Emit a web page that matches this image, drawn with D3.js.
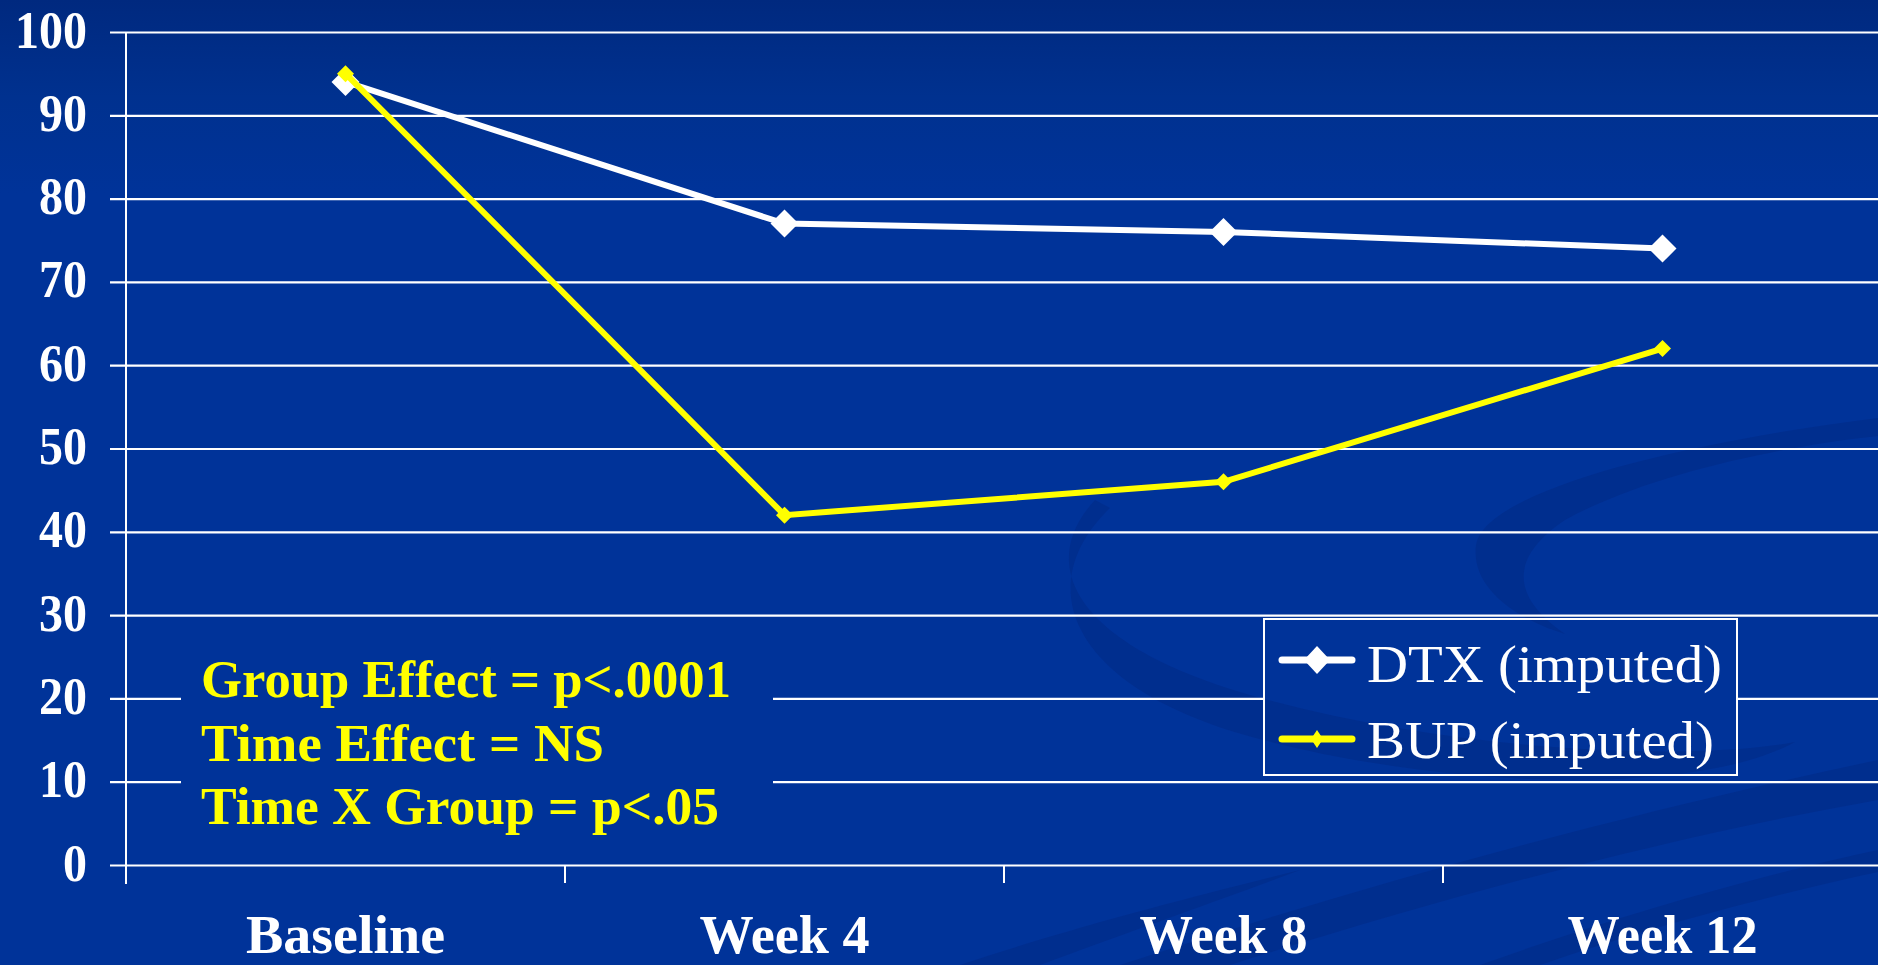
<!DOCTYPE html>
<html>
<head>
<meta charset="utf-8">
<script src="https://cdn.jsdelivr.net/npm/d3@7"></script>
<style>
  html, body { margin: 0; padding: 0; background: #003399; overflow: hidden; }
  svg { display: block; }
</style>
</head>
<body>
<svg id="chart" width="1878" height="965"></svg>
<script>
// ---------- data ----------
const categories = ["Baseline", "Week 4", "Week 8", "Week 12"];
const dtxValues = [94, 77, 76, 74];
const bupValues = [95, 42, 46, 62];
const yTicks = [0, 10, 20, 30, 40, 50, 60, 70, 80, 90, 100];
const seriesNames = ["DTX (imputed)", "BUP (imputed)"];
const seriesColors = ["#ffffff", "#ffff00"];
const annotationLines = ["Group Effect = p<.0001", "Time Effect = NS", "Time X Group = p<.05"];

// ---------- layout ----------
const W = 1878, H = 965;
const svg = d3.select("#chart");
const bg = "#003399";
const serif = "'Liberation Serif', 'Times New Roman', serif";

const x = d3.scaleBand().domain(categories).range([126, 1882]);
const y = d3.scaleLinear().domain([0, 100]).range([865, 32]);

// background gradient
const defs = svg.append("defs");
const grad = defs.append("linearGradient").attr("id", "bgGrad")
  .attr("x1", 0).attr("y1", 0).attr("x2", 0).attr("y2", 1);
grad.append("stop").attr("offset", "0%").attr("stop-color", "#00297f");
grad.append("stop").attr("offset", "10%").attr("stop-color", "#00318f");
grad.append("stop").attr("offset", "20%").attr("stop-color", bg);
grad.append("stop").attr("offset", "100%").attr("stop-color", bg);
svg.append("rect").attr("width", W).attr("height", H).attr("fill", "url(#bgGrad)");

// decorative swooshes (slide background)
const swooshPaths = [
  "M1095,500 C1035,565 1075,645 1250,695 C1450,752 1690,762 1795,742 C1700,795 1450,792 1245,735 C1070,685 1030,585 1110,508 Z",
  "M1878,418 C1700,440 1485,488 1476,545 C1470,592 1525,622 1565,634 C1515,600 1505,560 1565,520 C1655,470 1800,444 1878,436 Z",
  "M1120,965 C1380,880 1640,810 1878,760 L1878,800 C1650,840 1420,905 1230,965 Z",
  "M1480,965 C1620,915 1760,875 1878,850 L1878,872 C1770,895 1640,930 1540,965 Z",
  "M960,965 C1080,925 1200,895 1300,870 C1220,900 1120,935 1040,965 Z"
];
const swooshG = svg.append("g").attr("id", "swooshes");
swooshG.selectAll("path").data(swooshPaths).enter().append("path")
  .attr("d", d => d).attr("fill", "#002a85").attr("opacity", 0.55);

// ---------- gridlines ----------
const gridAxis = d3.axisLeft(y).tickValues(yTicks).tickSize(-(W - 110)).tickFormat("");
const gridG = svg.append("g").attr("transform", "translate(110,0)").call(gridAxis);
gridG.select(".domain").remove();
gridG.selectAll(".tick line").attr("stroke", "#ffffff").attr("stroke-width", 2.2);

// y axis line
svg.append("line").attr("x1", 126).attr("x2", 126).attr("y1", y(100)).attr("y2", 884)
  .attr("stroke", "#ffffff").attr("stroke-width", 2);

// y labels
const yLabAxis = d3.axisLeft(y).tickValues(yTicks).tickSize(0).tickPadding(0).tickFormat(d3.format("d"));
const yLabG = svg.append("g").attr("transform", "translate(87,0)").call(yLabAxis);
yLabG.select(".domain").remove();
yLabG.selectAll(".tick text")
  .attr("fill", "#ffffff").attr("font-family", serif).attr("font-weight", "bold")
  .attr("font-size", 52).attr("dy", 15).attr("x", 0)
  .attr("text-anchor", "end")
  .attr("textLength", d => String(d).length * 24)
  .attr("lengthAdjust", "spacingAndGlyphs");

// x axis ticks at band edges
const edges = categories.map(c => x(c)).concat([x.range()[1]]);
svg.append("g").selectAll("line").data(edges).enter().append("line")
  .attr("x1", d => d).attr("x2", d => d).attr("y1", y(0)).attr("y2", 883)
  .attr("stroke", "#ffffff").attr("stroke-width", 2);

// x labels
const xLabWidths = [199, 170, 168, 190];
const xLabAxis = d3.axisBottom(x).tickSize(0).tickPadding(0);
const xLabG = svg.append("g").attr("transform", "translate(0,0)").call(xLabAxis);
xLabG.select(".domain").remove();
xLabG.selectAll(".tick text")
  .attr("fill", "#ffffff").attr("font-family", serif).attr("font-weight", "bold")
  .attr("font-size", 54).attr("y", 953).attr("dy", 0)
  .attr("textLength", (d, i) => xLabWidths[i])
  .attr("lengthAdjust", "spacingAndGlyphs");

// ---------- annotation box ----------
svg.append("rect").attr("x", 181).attr("y", 635).attr("width", 592).attr("height", 210)
  .attr("fill", bg);
const annWidths = [530, 403, 518];
svg.append("g").selectAll("text").data(annotationLines).enter().append("text")
  .attr("x", 201).attr("y", (d, i) => 697 + i * 63.5)
  .attr("fill", "#ffff00").attr("font-family", serif).attr("font-weight", "bold")
  .attr("font-size", 53)
  .attr("textLength", (d, i) => annWidths[i]).attr("lengthAdjust", "spacingAndGlyphs")
  .text(d => d);

// ---------- series ----------
const cx = c => x(c) + x.bandwidth() / 2;
const line = d3.line().x((d, i) => cx(categories[i])).y(d => y(d));
const series = [
  { name: seriesNames[0], values: dtxValues, color: seriesColors[0], r: 14 },
  { name: seriesNames[1], values: bupValues, color: seriesColors[1], r: 8.5 }
];
const diamond = r => `M0,${-r} L${r},0 L0,${r} L${-r},0 Z`;

series.forEach(s => {
  const g = svg.append("g");
  g.append("path").datum(s.values).attr("d", line)
    .attr("fill", "none").attr("stroke", s.color).attr("stroke-width", 6)
    .attr("stroke-linejoin", "miter");
  g.selectAll("path.m").data(s.values).enter().append("path").attr("class", "m")
    .attr("transform", (d, i) => `translate(${cx(categories[i])},${y(d)})`)
    .attr("d", diamond(s.r)).attr("fill", s.color);
});

// ---------- legend ----------
const lg = svg.append("g");
const lx = 1264, ly = 619, lw = 473, lh = 156;
defs.append("clipPath").attr("id", "legClip").append("rect")
  .attr("x", lx).attr("y", ly).attr("width", lw).attr("height", lh);
lg.append("rect").attr("x", lx).attr("y", ly).attr("width", lw).attr("height", lh)
  .attr("fill", bg);
const lgSw = lg.append("g").attr("clip-path", "url(#legClip)");
lgSw.selectAll("path").data(swooshPaths).enter().append("path")
  .attr("d", d => d).attr("fill", "#002a85").attr("opacity", 0.55);
lg.append("rect").attr("x", lx).attr("y", ly).attr("width", lw).attr("height", lh)
  .attr("fill", "none").attr("stroke", "#ffffff").attr("stroke-width", 2);

const legRowsY = [660, 739];
const legTextY = [682, 758];
const legWidths = [355, 347];
series.forEach((s, i) => {
  lg.append("line").attr("x1", 1282).attr("x2", 1352).attr("y1", legRowsY[i]).attr("y2", legRowsY[i])
    .attr("stroke", s.color).attr("stroke-width", 7).attr("stroke-linecap", "round");
  lg.append("path").attr("transform", `translate(1317,${legRowsY[i]})`)
    .attr("d", i === 0 ? `M0,-14 L13,0 L0,14 L-13,0 Z` : `M0,-9 L6,0 L0,9 L-6,0 Z`)
    .attr("fill", s.color);
  lg.append("text").attr("x", 1367).attr("y", legTextY[i])
    .attr("fill", "#ffffff").attr("font-family", serif).attr("font-size", 53)
    .attr("textLength", legWidths[i]).attr("lengthAdjust", "spacingAndGlyphs")
    .text(s.name);
});
</script>
</body>
</html>
